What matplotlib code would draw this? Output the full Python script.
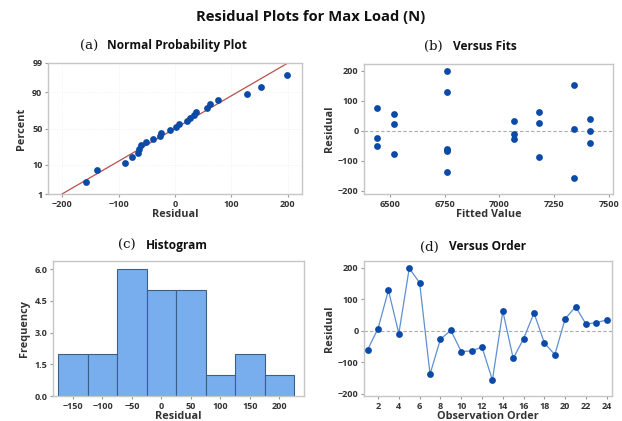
import matplotlib
matplotlib.use("Agg")
import matplotlib.pyplot as plt
import numpy as np
from statistics import NormalDist

# residuals in observation order
residuals = [-60, 7, 128, -9, 198, 152, -138, -27, 1, -66, -64, -52,
             -157, 62, -88, -25, 56, -39, -76, 38, 76, 21, 26, 34]
# fitted value for each observation
fits = [6761, 7343, 6761, 7068, 6761, 7343, 6761, 7068, 7413, 6761, 6761, 6439,
        7343, 7183, 7183, 6439, 6517, 7413, 6517, 7413, 6439, 6517, 7183, 7068]

prob_ticks = [1, 10, 50, 90, 99]
hist_bins = [-175, -125, -75, -25, 25, 75, 125, 175, 225]
hist_ticks = [-150, -100, -50, 0, 50, 100, 150, 200]
freq_ticks = [0.0, 1.5, 3.0, 4.5, 6.0]
order_ticks = list(range(2, 25, 2))

plt.rcParams['font.family'] = ['Open Sans', 'DejaVu Sans']

W, H = 622, 421
fig = plt.figure(figsize=(W / 100, H / 100), dpi=100)
fig.patch.set_facecolor('white')

DOT = '#0b4aa6'
FRAME = '#c6c6c6'
TXT = '#333333'


def box(l, t, r, b):
    return [l / W, 1 - b / H, (r - l) / W, (b - t) / H]


def style(ax):
    for s in ax.spines.values():
        s.set_color(FRAME)
        s.set_linewidth(1.0)
    ax.tick_params(direction='out', length=2.5, width=0.8, color='#999999',
                   labelsize=6.5, labelcolor=TXT, pad=1.5)
    for lab in ax.get_xticklabels() + ax.get_yticklabels():
        lab.set_fontweight('bold')


def labels(ax, xl, yl, ypad):
    ax.set_xlabel(xl, fontsize=7.8, fontweight='bold', color=TXT, labelpad=0)
    ax.set_ylabel(yl, fontsize=7.8, fontweight='bold', color=TXT, labelpad=ypad)


def heading(x_tag, x_name, y, tag, name):
    fig.text(x_tag / W, 1 - y / H, tag, family='DejaVu Serif', fontsize=9.5,
             ha='left', va='center', color='#111111')
    fig.text(x_name / W, 1 - y / H, name, fontsize=8.6, fontweight='bold',
             ha='left', va='center', color='#111111')


fig.text(0.5, 1 - 17 / H, 'Residual Plots for Max Load (N)', ha='center', va='center',
         fontsize=10.6, fontweight='bold', color='#111111')

# (a) normal probability plot
ax = fig.add_axes(box(48, 63, 302, 194))
nd = NormalDist()
n = len(residuals)
srt = np.sort(residuals)
z = [nd.inv_cdf((i + 1 - 0.3) / (n + 0.4)) for i in range(n)]
mu = np.mean(residuals)
sd = np.std(residuals, ddof=1)
zlim = nd.inv_cdf(0.99)
xs = np.array([-260, 260])
ax.plot(xs, (xs - mu) / sd, color='#b9504b', lw=0.9, zorder=2)
ax.scatter(srt, z, s=24, color=DOT, zorder=3, linewidths=0)
ax.set_xlim(-225, 225)
ax.set_ylim(-zlim, zlim)
ax.set_xticks([-200, -100, 0, 100, 200])
ax.set_yticks([nd.inv_cdf(p / 100) for p in prob_ticks])
ax.set_yticklabels([str(p) for p in prob_ticks])
ax.grid(True, color='#eeeeee', lw=0.6, ls=':')
style(ax)
labels(ax, 'Residual', 'Percent', 4)
heading(80, 107, 46, '(a)', 'Normal Probability Plot')

# (b) residuals versus fits
ax = fig.add_axes(box(364, 64, 613, 194))
ax.axhline(0, color='#aaaaaa', lw=0.8, ls=(0, (3, 2)), zorder=1)
ax.scatter(fits, residuals, s=24, color=DOT, zorder=3, linewidths=0)
ax.set_xlim(6380, 7520)
ax.set_ylim(-210, 222)
ax.set_xticks([6500, 6750, 7000, 7250, 7500])
ax.set_yticks([-200, -100, 0, 100, 200])
style(ax)
labels(ax, 'Fitted Value', 'Residual', 2)
heading(424, 453, 46, '(b)', 'Versus Fits')

# (c) histogram
ax = fig.add_axes(box(53, 261, 304, 396))
ax.hist(residuals, bins=hist_bins, color='#78aeee', edgecolor='#3d5f86', linewidth=0.8)
ax.set_xlim(-184, 242)
ax.set_ylim(0, 6.38)
ax.set_xticks(hist_ticks)
ax.set_yticks(freq_ticks)
ax.set_yticklabels(['%.1f' % v for v in freq_ticks])
style(ax)
labels(ax, 'Residual', 'Frequency', 3)
heading(118, 146, 245, '(c)', 'Histogram')

# (d) residuals versus order
ax = fig.add_axes(box(364, 261, 612, 396))
order = np.arange(1, n + 1)
ax.axhline(0, color='#aaaaaa', lw=0.8, ls=(0, (3, 2)), zorder=1)
ax.plot(order, residuals, color='#5f8fd3', lw=0.9, zorder=2)
ax.scatter(order, residuals, s=24, color=DOT, zorder=3, linewidths=0)
ax.set_xlim(0.65, 24.5)
ax.set_ylim(-207, 221)
ax.set_xticks(order_ticks)
ax.set_yticks([-200, -100, 0, 100, 200])
style(ax)
labels(ax, 'Observation Order', 'Residual', 2)
heading(420, 449, 247, '(d)', 'Versus Order')

fig.savefig('out.png', dpi=100)
